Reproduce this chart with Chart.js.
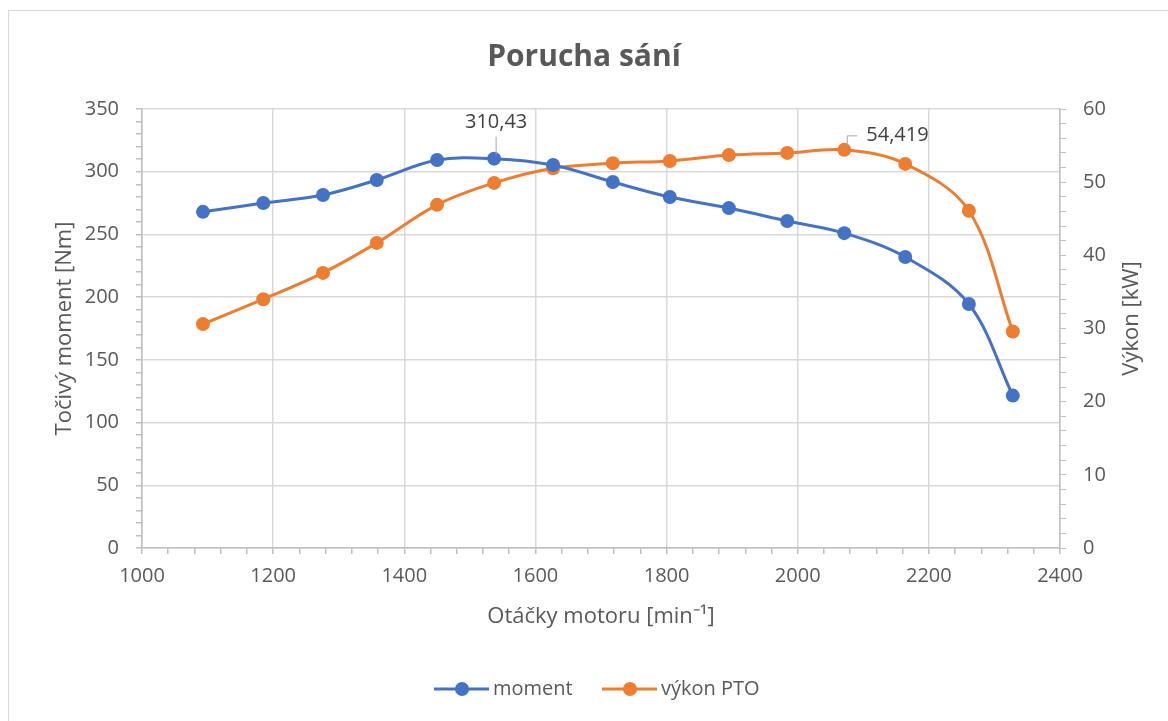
<!DOCTYPE html>
<html>
<head>
<meta charset="utf-8">
<script src="https://cdn.jsdelivr.net/npm/chart.js@4"></script>
<style>
  html, body { margin: 0; padding: 0; background: #fff; overflow: hidden; }
  #wrap { position: relative; width: 1168px; height: 721px; }
  #ramecek { position: absolute; left: 8px; top: 10px; width: 1180px; height: 730px; border: 1px solid #d9d9d9; box-sizing: border-box; pointer-events: none; }
  canvas { position: absolute; left: 0; top: 0; }
</style>
</head>
<body>
<div id="wrap">
  <canvas id="graf" width="1168" height="721"></canvas>
  <div id="ramecek"></div>
</div>
<script>
// data z grafu
const otacky = [1093, 1185, 1276, 1358, 1450, 1537, 1627, 1718, 1805, 1895, 1984, 2071, 2164, 2261, 2328];
const moment = [268, 275, 281.4, 293.4, 309.3, 310.43, 305.3, 291.8, 279.8, 271, 260.7, 251, 232, 194.5, 121.5];
const vykonPTO = [30.6, 34.0, 37.6, 41.7, 46.9, 49.9, 51.9, 52.6, 52.9, 53.7, 54.0, 54.419, 52.5, 46.1, 29.6];
const xTicky = [1000, 1200, 1400, 1600, 1800, 2000, 2200, 2400];
const momentTicky = [0, 50, 100, 150, 200, 250, 300, 350];
const vykonTicky = [0, 10, 20, 30, 40, 50, 60];

const MODRA = '#4472C4';
const ORANZOVA = '#ED7D31';
const SEDA_TEXT = '#595959';
const MRIZKA = '#d9d9d9';
const OSA = '#bfbfbf';
const FONT = "'Open Sans', sans-serif";

const body = (ys) => otacky.map((x, i) => ({ x: x, y: ys[i] }));

// popisky hodnot (310,43 a 54,419)
const popiskyPlugin = {
    id: 'popisky',
    afterDatasetsDraw(chart) {
        const ctx = chart.ctx;
        ctx.save();
        ctx.font = '20px ' + FONT;
        ctx.fillStyle = '#404040';
        ctx.strokeStyle = '#a6a6a6';
        ctx.lineWidth = 1;

        // moment max
        const iM = moment.indexOf(Math.max(...moment));
        const pM = chart.getDatasetMeta(0).data[iM];
        ctx.beginPath();
        ctx.moveTo(pM.x + 2, pM.y - 4);
        ctx.lineTo(pM.x + 2, pM.y - 22);
        ctx.stroke();
        ctx.textAlign = 'center';
        ctx.textBaseline = 'middle';
        ctx.fillText(moment[iM].toString().replace('.', ','), pM.x + 2, pM.y - 36);

        // vykon max
        const iV = vykonPTO.indexOf(Math.max(...vykonPTO));
        const pV = chart.getDatasetMeta(1).data[iV];
        ctx.beginPath();
        ctx.moveTo(pV.x + 3, pV.y - 4);
        ctx.lineTo(pV.x + 3, pV.y - 14);
        ctx.lineTo(pV.x + 13, pV.y - 14);
        ctx.stroke();
        ctx.textAlign = 'left';
        ctx.fillText(vykonPTO[iV].toString().replace('.', ','), pV.x + 22, pV.y - 15);
        ctx.restore();
    }
};

// legenda dole ve stylu Excelu + titulek prave osy (otoceny jako v Excelu)
const legendaPlugin = {
    id: 'legendaExcel',
    afterDraw(chart) {
        const ctx = chart.ctx;
        const polozky = [
            { text: 'moment', barva: MODRA, x: 434 },
            { text: 'výkon PTO', barva: ORANZOVA, x: 602 }
        ];
        const y = 689;
        ctx.save();
        ctx.font = '20px ' + FONT;
        ctx.textBaseline = 'middle';
        ctx.textAlign = 'left';
        polozky.forEach(p => {
            ctx.strokeStyle = p.barva;
            ctx.lineWidth = 3;
            ctx.beginPath();
            ctx.moveTo(p.x, y);
            ctx.lineTo(p.x + 55, y);
            ctx.stroke();
            ctx.fillStyle = p.barva;
            ctx.beginPath();
            ctx.arc(p.x + 28, y, 7, 0, Math.PI * 2);
            ctx.fill();
            ctx.fillStyle = SEDA_TEXT;
            ctx.fillText(p.text, p.x + 59, y);
        });

        const osa = chart.scales.yVykon;
        ctx.font = '22px ' + FONT;
        ctx.fillStyle = SEDA_TEXT;
        ctx.textAlign = 'center';
        ctx.translate(osa.right - 36, (osa.top + osa.bottom) / 2 - 10);
        ctx.rotate(-Math.PI / 2);
        ctx.fillText('Výkon [kW]', 0, 0);
        ctx.restore();
    }
};

const ctx = document.getElementById('graf').getContext('2d');
new Chart(ctx, {
    type: 'line',
    data: {
        datasets: [{
            label: 'moment',
            data: body(moment),
            yAxisID: 'yMoment',
            borderColor: MODRA,
            backgroundColor: MODRA,
            borderWidth: 3,
            pointRadius: 7,
            pointBorderWidth: 0,
            tension: 0.35,
            fill: false
        }, {
            label: 'výkon PTO',
            data: body(vykonPTO),
            yAxisID: 'yVykon',
            borderColor: ORANZOVA,
            backgroundColor: ORANZOVA,
            borderWidth: 3,
            pointRadius: 7,
            pointBorderWidth: 0,
            tension: 0.35,
            fill: false
        }]
    },
    options: {
        responsive: false,
        animation: false,
        layout: { padding: 0 },
        plugins: {
            legend: { display: false },
            tooltip: { enabled: false },
            title: {
                display: true,
                text: 'Porucha sání',
                color: SEDA_TEXT,
                font: { family: FONT, size: 30, weight: 'bold' },
                padding: { top: 39, bottom: 34 }
            }
        },
        scales: {
            x: {
                type: 'linear',
                min: xTicky[0],
                max: xTicky[xTicky.length - 1],
                afterFit: (s) => { s.height = 173; },
                ticks: {
                    stepSize: 40,
                    autoSkip: false,
                    maxRotation: 0,
                    padding: 10,
                    color: SEDA_TEXT,
                    font: { family: FONT, size: 20 },
                    callback: (v) => xTicky.includes(v) ? v : ''
                },
                grid: {
                    color: (c) => xTicky.includes(c.tick && c.tick.value) ? MRIZKA : 'rgba(0,0,0,0)',
                    tickColor: OSA,
                    tickLength: 6,
                    lineWidth: 1.5
                },
                border: { color: OSA, width: 1.5 },
                title: {
                    display: true,
                    text: 'Otáčky motoru [min⁻¹]',
                    color: SEDA_TEXT,
                    font: { family: FONT, size: 22 },
                    padding: { top: 0, bottom: 91 }
                }
            },
            yMoment: {
                type: 'linear',
                position: 'left',
                min: momentTicky[0],
                max: momentTicky[momentTicky.length - 1],
                afterFit: (s) => { s.width = 142; },
                ticks: {
                    stepSize: 10,
                    autoSkip: false,
                    padding: 17,
                    color: SEDA_TEXT,
                    font: { family: FONT, size: 20 },
                    callback: (v) => momentTicky.includes(v) ? v : ''
                },
                grid: {
                    color: (c) => momentTicky.includes(c.tick && c.tick.value) ? MRIZKA : 'rgba(0,0,0,0)',
                    tickColor: OSA,
                    tickLength: 6,
                    lineWidth: 1.5
                },
                border: { color: OSA, width: 1.5 },
                title: {
                    display: true,
                    text: 'Točivý moment [Nm]',
                    color: SEDA_TEXT,
                    font: { family: FONT, size: 22 },
                    padding: { top: 52, bottom: 0 }
                }
            },
            yVykon: {
                type: 'linear',
                position: 'right',
                min: vykonTicky[0],
                max: vykonTicky[vykonTicky.length - 1],
                afterFit: (s) => { s.width = 108; },
                ticks: {
                    stepSize: 2,
                    autoSkip: false,
                    padding: 17,
                    color: SEDA_TEXT,
                    font: { family: FONT, size: 20 },
                    callback: (v) => vykonTicky.includes(v) ? v : ''
                },
                grid: {
                    drawOnChartArea: false,
                    tickColor: OSA,
                    tickLength: 6
                },
                border: { color: OSA, width: 1.5 },
                title: { display: false }
            }
        }
    },
    plugins: [popiskyPlugin, legendaPlugin]
});
</script>
</body>
</html>
